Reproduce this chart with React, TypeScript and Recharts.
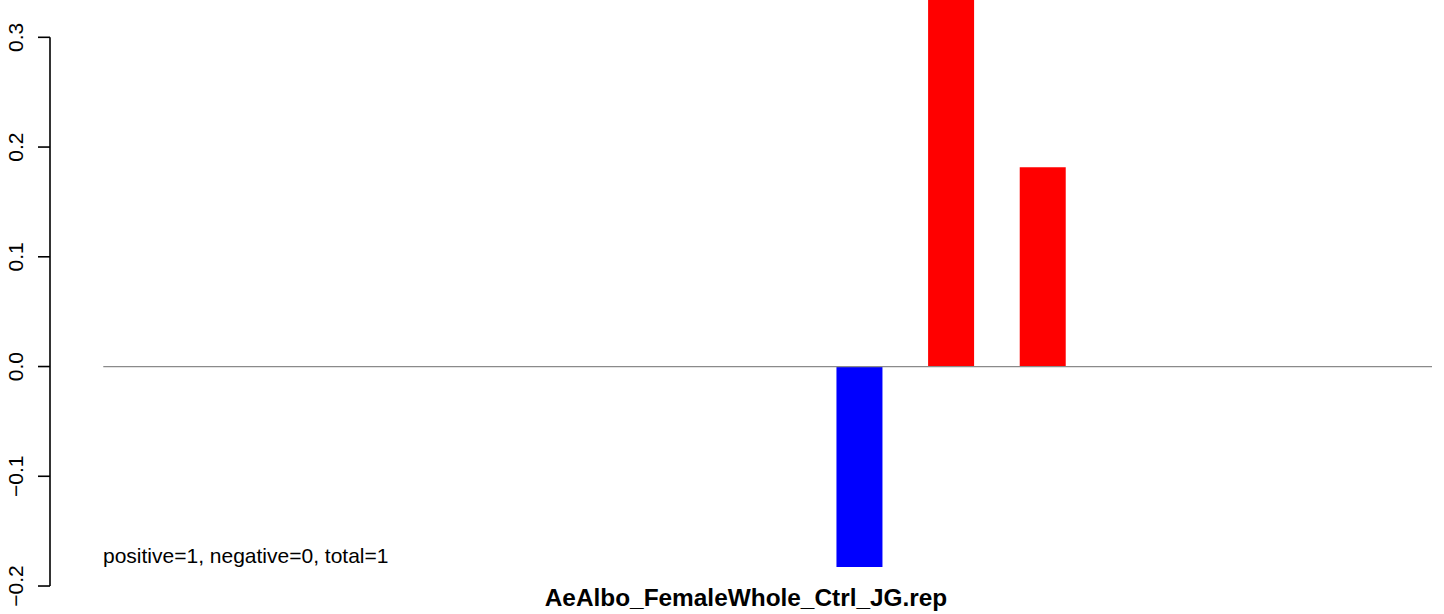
import React from 'react';
import { BarChart, Bar, XAxis, YAxis, Cell, ReferenceLine } from 'recharts';

// 15 bar slots, R barplot style (width 1, space 1)
const slots = [0, 1, 2, 3, 4, 5, 6, 7, 8, 9, 10, 11, 12, 13, 14];
const scores = [0, 0, 0, 0, 0, 0, 0, 0, -0.1826, 0.36, 0.1817, 0, 0, 0, 0];
const yTicks = [-0.2, -0.1, 0.0, 0.1, 0.2, 0.3];
const title = 'AeAlbo_FemaleWhole_Ctrl_JG.rep';
const note = 'positive=1, negative=0, total=1';

const W = 1444;
const H = 614;
const FONT = '"Liberation Sans", Arial, Helvetica, sans-serif';

const X_MIN = -0.163;
const X_MAX = 30.262;
const Y_MIN = -0.2255;
const Y_MAX = 0.334;

const data = slots.map((s, i) => ({ pos: 2 * s + 1.5, value: scores[i] }));

const YTick = (props: any) => {
    const { y, payload } = props;
    const label = payload.value.toFixed(1).replace('-', '\u2212');
    return (
        <text
            x={23}
            y={y}
            transform={`rotate(-90, 23, ${y})`}
            textAnchor="middle"
            fontFamily={FONT}
            fontSize={21}
            fill="#000"
        >
            {label}
        </text>
    );
};

export default function App() {
    return (
        <div style={{ position: 'absolute', left: 0, top: 0, width: W, height: H, background: '#fff' }}>
            <BarChart width={W} height={H} data={data} margin={{ top: 0, right: 0, bottom: 0, left: 0 }}>
                <XAxis type="number" dataKey="pos" domain={[X_MIN, X_MAX]} allowDataOverflow hide />
                <YAxis
                    type="number"
                    domain={[Y_MIN, Y_MAX]}
                    allowDataOverflow
                    ticks={yTicks}
                    width={50}
                    axisLine={false}
                    tickSize={12}
                    tickLine={{ stroke: '#000', strokeWidth: 1.6 }}
                    tick={<YTick />}
                    interval={0}
                />
                <ReferenceLine
                    segment={[{ x: X_MIN, y: -0.2 }, { x: X_MIN, y: 0.3 }]}
                    stroke="#000"
                    strokeWidth={1.6}
                    ifOverflow="visible"
                />
                <Bar dataKey="value" barSize={46} isAnimationActive={false}>
                    {data.map((d, i) => (
                        <Cell key={`c-${i}`} fill={d.value < 0 ? '#0000ff' : '#ff0000'} />
                    ))}
                </Bar>
                <ReferenceLine
                    segment={[{ x: 1, y: 0 }, { x: 30, y: 0 }]}
                    stroke="#8a8a8a"
                    strokeWidth={1.3}
                />
            </BarChart>
            <svg width={W} height={H} style={{ position: 'absolute', left: 0, top: 0, pointerEvents: 'none' }}>
                <text x={103} y={563} fontFamily={FONT} fontSize={21} fill="#000">
                    {note}
                </text>
                <text x={746} y={606} textAnchor="middle" fontFamily={FONT} fontSize={24.4} fontWeight="bold" fill="#000">
                    {title}
                </text>
            </svg>
        </div>
    );
}
